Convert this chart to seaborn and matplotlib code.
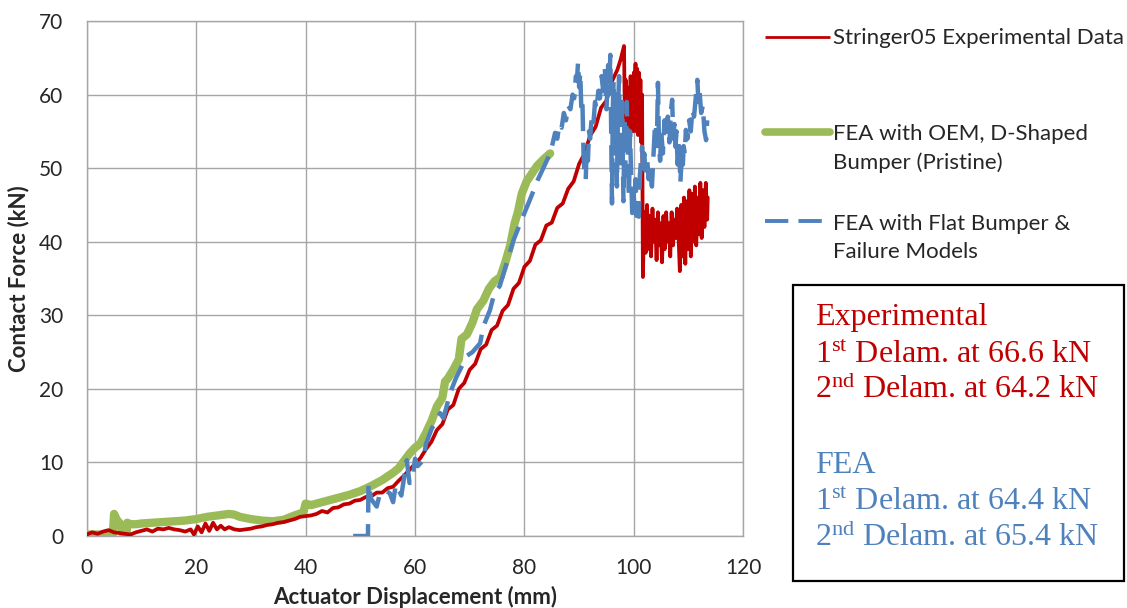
import matplotlib
matplotlib.use("Agg")
import matplotlib.pyplot as plt
import pandas as pd
import seaborn as sns
from matplotlib.lines import Line2D
from matplotlib.patches import Rectangle

# ---- Stringer05 experimental contact force vs. actuator displacement ----
exp_x = [0, 1, 2, 3, 4, 5, 6, 7, 8, 9,
         10, 11, 12, 13, 14, 15, 16, 17, 18, 19,
         19.6, 20.3, 21, 21.7, 22.4, 23.1, 23.8, 24.5, 25.2, 26,
         27, 28, 29, 30, 31, 32, 33, 34, 35, 36,
         37, 38, 39, 40, 41, 42, 43, 44, 45, 46,
         47, 48, 49, 50, 51, 52, 53, 54, 55, 56,
         57, 58, 59, 60, 61, 62, 63, 64, 65, 66,
         67, 68, 69, 70, 71, 72, 73, 74, 75, 76,
         77, 78, 79, 80, 81, 82, 83, 84, 85, 86,
         87, 88, 89, 90, 91, 92, 93, 94, 95, 96,
         97, 97.6, 98.2, 98.35, 98.5, 98.65, 98.8, 98.95, 99.1, 99.25,
         99.4, 99.55, 99.7, 99.85, 100.0, 100.15, 100.3, 100.45, 100.6, 100.75,
         100.9, 101.05, 101.2, 101.35, 101.5, 101.65, 101.9, 102.15, 102.4, 102.65,
         102.9, 103.15, 103.4, 103.65, 103.9, 104.15, 104.4, 104.65, 104.9, 105.15,
         105.4, 105.65, 105.9, 106.15, 106.4, 106.65, 106.9, 107.15, 107.4, 107.65,
         107.9, 108.15, 108.4, 108.65, 108.9, 109.15, 109.4, 109.65, 109.9, 110.15,
         110.4, 110.65, 110.9, 111.15, 111.4, 111.65, 111.9, 112.15, 112.4, 112.65,
         112.9, 113.15, 113.4, 113.5]
exp_y = [0.2, 0.5, 0.3, 0.6, 0.8, 0.5, 0.4, 0.3, 0.2, 0.5,
         0.7, 0.9, 0.6, 1.0, 0.9, 1.1, 0.9, 0.8, 0.6, 0.9,
         0.2, 1.3, 0.5, 1.7, 0.7, 1.8, 0.9, 1.4, 0.9, 1.2,
         0.9, 0.8, 0.9, 1.0, 1.2, 1.3, 1.5, 1.6, 1.8, 1.9,
         2.1, 2.3, 2.6, 2.7, 2.8, 3.0, 3.4, 3.2, 3.8, 3.9,
         4.3, 4.4, 4.8, 4.9, 5.3, 5.4, 5.9, 5.9, 6.5, 6.7,
         7.5, 8.2, 9.0, 9.8, 10.6, 11.8, 12.8, 14.4, 15.2, 17.2,
         17.8, 20.0, 20.8, 22.6, 23.4, 25.4, 26.0, 28.0, 28.6, 30.6,
         31.4, 33.6, 34.4, 36.6, 37.4, 39.6, 40.2, 42.2, 42.6, 44.6,
         45.2, 47.2, 48.2, 50.6, 52.0, 54.4, 55.6, 58.2, 59.2, 61.8,
         63.4, 64.8, 66.6, 57.0, 62.0, 54.5, 61.0, 55.0, 60.0, 54.0,
         62.5, 56.0, 61.0, 55.0, 63.0, 57.0, 64.2, 55.0, 63.5, 54.5,
         63.0, 56.0, 62.0, 53.5, 60.0, 35.2, 44.0, 38.5, 45.0, 39.0,
         43.5, 38.0, 44.5, 40.0, 43.0, 37.5, 44.0, 39.5, 42.5, 37.2,
         43.5, 39.0, 44.0, 40.0, 42.5, 38.0, 44.0, 39.5, 43.0, 40.5,
         44.5, 41.0, 36.0, 45.0, 38.0, 46.0, 37.0, 45.5, 39.0, 47.0,
         38.0, 46.5, 40.0, 47.5, 39.5, 46.0, 41.0, 48.0, 40.5, 47.0,
         42.0, 48.0, 43.0, 46.0]

# ---- FEA with OEM, D-shaped bumper (pristine) ----
oem_x = [0, 2, 4, 4.8, 5.0, 5.5, 6.2, 6.6, 7.3, 7.4,
         8, 9, 10, 12, 14, 16, 18, 20, 22, 24,
         26, 27, 28, 30, 32, 34, 36, 38, 39.6, 40.0,
         41, 42, 44, 46, 48, 50, 52, 54, 56, 57,
         58, 59, 60, 61, 62, 63, 64, 65, 65.5, 66,
         67, 68, 68.5, 69.5, 70.5, 71.3, 72.5, 73.5, 74.5, 75.6,
         76.5, 77.4, 78.2, 78.8, 79.5, 80.4, 81.3, 82.3, 83.5, 84.7]
oem_y = [0.2, 0.2, 0.2, 0.3, 3.0, 2.2, 1.6, 0.3, 0.3, 1.8,
         1.6, 1.6, 1.7, 1.8, 1.9, 2.0, 2.1, 2.3, 2.6, 2.8,
         3.0, 2.9, 2.6, 2.3, 2.1, 2.0, 2.2, 2.8, 3.2, 4.4,
         4.2, 4.4, 4.8, 5.2, 5.6, 6.1, 6.8, 7.6, 8.6, 9.2,
         10.2, 11.2, 12.0, 12.6, 14.0, 15.6, 17.6, 18.8, 21.0, 21.4,
         22.6, 24.0, 26.8, 27.4, 29.0, 30.8, 32.0, 33.6, 34.6, 35.2,
         37.2, 39.5, 42.5, 44.0, 46.5, 48.2, 49.2, 50.3, 51.2, 52.0]

# ---- FEA with flat bumper & failure models ----
flat_x = [48.7, 51.4, 51.5, 52.0, 53.0, 53.5, 54.5, 55.4, 56.0, 56.5,
          57.5, 58.5, 59.0, 59.5, 60.0, 60.5, 61.5, 62.0, 63.0, 64.6,
          65.2, 66.4, 67.5, 68.5, 69.5, 70.5, 71.9, 72.5, 73.7, 74.5,
          75.5, 76.5, 78.0, 79.5, 81.0, 82.5, 84.7, 85.2, 85.6, 86.0,
          86.4, 86.8, 87.2, 87.6, 88.0, 88.4, 88.8, 89.1, 89.4, 89.6,
          89.8, 90.0, 90.2, 90.4, 90.6, 90.8, 91.0, 91.2, 91.4, 91.6,
          91.8, 92.0, 92.3, 92.6, 92.9, 93.2, 93.5, 93.8, 94.1, 94.4,
          94.7, 95.0, 95.3, 95.5, 95.7, 95.85, 96.0, 96.15, 96.3, 96.5,
          96.7, 96.9, 97.1, 97.3, 97.5, 97.7, 97.9, 98.1, 98.3, 98.5,
          98.7, 98.9, 99.1, 99.3, 99.5, 99.7, 99.9, 100.1, 100.3, 100.5,
          100.7, 100.9, 101.1, 101.3, 101.5, 101.7, 101.9, 102.1, 102.4, 102.7,
          103.0, 103.3, 103.6, 103.8, 104.0, 104.2, 104.4, 104.6, 104.8, 105.0,
          105.3, 105.6, 105.9, 106.2, 106.5, 106.8, 107.0, 107.2, 107.4, 107.6,
          107.8, 108.0, 108.3, 108.5, 108.7, 108.9, 109.1, 109.3, 109.5, 109.8,
          110.1, 110.4, 110.7, 111.0, 111.3, 111.6, 111.8, 112.0, 112.3, 112.6,
          112.9, 113.2, 113.4]
flat_y = [0.0, 0.0, 7.2, 5.0, 4.0, 5.5, 6.2, 5.8, 4.6, 7.0,
          5.5, 10.3, 7.2, 7.4, 10.5, 9.5, 10.3, 12.5, 14.5, 16.7,
          16.0, 19.4, 21.5, 23.0, 24.5, 25.0, 26.2, 28.5, 30.7, 33.0,
          34.0, 36.5, 40.2, 43.0, 45.7, 48.5, 52.0, 53.5, 54.8, 54.0,
          56.0, 55.5, 57.5, 56.5, 58.5, 58.0, 60.0, 59.5, 62.5, 62.0,
          64.4, 61.0, 63.0, 58.0, 59.0, 52.0, 49.0, 48.4, 53.0, 51.0,
          55.0, 54.0, 57.0, 56.0, 59.0, 58.0, 60.5, 59.5, 62.5, 60.5,
          63.5, 58.0, 64.0, 61.0, 65.4, 55.0, 45.2, 58.0, 62.0, 52.0,
          60.0, 47.5, 58.0, 62.5, 50.0, 60.0, 55.0, 45.5, 57.0, 49.0,
          59.0, 52.0, 46.0, 55.0, 49.0, 43.9, 47.0, 45.0, 48.5, 43.5,
          46.0, 43.4, 49.0, 51.0, 52.9, 50.0, 52.0, 49.7, 51.5, 48.5,
          50.0, 47.5, 52.0, 55.0, 56.1, 53.0, 61.6, 53.0, 51.0, 55.0,
          52.0, 56.5, 54.0, 57.0, 53.5, 58.0, 59.3, 54.0, 56.0, 52.9,
          55.0, 50.5, 53.0, 48.0, 51.0, 49.5, 53.0, 52.0, 55.2, 54.0,
          56.5, 55.0, 58.0, 57.0, 59.5, 62.0, 59.0, 60.5, 57.5, 58.5,
          55.0, 53.8, 56.5]

x_ticks = [0, 20, 40, 60, 80, 100, 120]
y_ticks = [0, 10, 20, 30, 40, 50, 60, 70]

series_names = ["Stringer05 Experimental Data",
                "FEA with OEM, D-Shaped\nBumper (Pristine)",
                "FEA with Flat Bumper &\nFailure Models"]

exp_delam = [66.6, 64.2]
fea_delam = [64.4, 65.4]

RED = "#C00000"
GREEN = "#9BBB59"
BLUE = "#4F81BD"
GRID = "#A6A6A6"
DASH = (0, (6.0, 2.6))

sns.set_style("white")
plt.rcParams["font.family"] = ["Lato", "DejaVu Sans"]
plt.rcParams["mathtext.fontset"] = "custom"
plt.rcParams["mathtext.rm"] = "Liberation Serif"
plt.rcParams["mathtext.it"] = "Liberation Serif:italic"
plt.rcParams["mathtext.bf"] = "Liberation Serif:bold"

W, H = 1127, 608
fig = plt.figure(figsize=(W / 100, H / 100), dpi=100)
ax = fig.add_axes([86.7 / W, 1 - 536 / H, (743.3 - 86.7) / W, (536 - 21) / H])

df_oem = pd.DataFrame({"disp": oem_x, "force": oem_y})
df_exp = pd.DataFrame({"disp": exp_x, "force": exp_y})
df_flat = pd.DataFrame({"disp": flat_x, "force": flat_y})

sns.lineplot(data=df_oem, x="disp", y="force", ax=ax, color=GREEN, lw=6.0,
             sort=False, estimator=None, legend=False, zorder=3,
             solid_capstyle="round", solid_joinstyle="round")
sns.lineplot(data=df_exp, x="disp", y="force", ax=ax, color=RED, lw=2.7,
             sort=False, estimator=None, legend=False, zorder=4)
sns.lineplot(data=df_flat, x="disp", y="force", ax=ax, color=BLUE, lw=3.2,
             sort=False, estimator=None, legend=False, zorder=5,
             linestyle=DASH)

ax.set_xlim(0, 120)
ax.set_ylim(0, 70)
ax.set_xticks(x_ticks)
ax.set_yticks(y_ticks)
ax.grid(True, color=GRID, lw=1)
ax.set_axisbelow(True)
for sp in ax.spines.values():
    sp.set_color(GRID)
    sp.set_linewidth(1)
ax.tick_params(length=0, labelsize=15, labelcolor="#262626")
ax.tick_params(axis="y", pad=17)
ax.tick_params(axis="x", pad=15.5)

ax.set_xlabel("Actuator Displacement (mm)", fontsize=16, fontweight="bold")
ax.set_ylabel("Contact Force (kN)", fontsize=16, fontweight="bold")
ax.xaxis.set_label_coords(0.5, -0.097)
ax.yaxis.set_label_coords(-0.087, 0.5)


def fx(px):
    return px / W


def fy(py):
    return 1 - py / H


# Legend drawn beside the axes
leg_items = [
    (RED, 2.0, "-", 37, [(series_names[0], 43.5)]),
    (GREEN, 5.5, "-", 131.5, [("FEA with OEM, D-Shaped", 139.5), ("Bumper (Pristine)", 169.5)]),
    (BLUE, 2.8, DASH, 221.5, [("FEA with Flat Bumper &", 230), ("Failure Models", 258.5)]),
]
for col, lw, ls, ly, lines in leg_items:
    fig.add_artist(Line2D([fx(765), fx(830)], [fy(ly), fy(ly)], color=col, lw=lw,
                          linestyle=ls, solid_capstyle="round" if col == GREEN else "butt",
                          transform=fig.transFigure))
    for txt, by in lines:
        fig.text(fx(833), fy(by), txt, fontsize=16, color="#262626",
                 ha="left", va="baseline")

# Delamination summary box
fig.add_artist(Rectangle((fx(793), fy(581)), fx(1124) - fx(793), (581 - 285) / H,
                         transform=fig.transFigure, fill=False, ec="black", lw=1.6))
box_lines = [
    ("Experimental", RED, 325),
    (r"1$^{\mathrm{st}}$ Delam. at %.1f kN" % exp_delam[0], RED, 363),
    (r"2$^{\mathrm{nd}}$ Delam. at %.1f kN" % exp_delam[1], RED, 398.5),
    ("FEA", BLUE, 473),
    (r"1$^{\mathrm{st}}$ Delam. at %.1f kN" % fea_delam[0], BLUE, 510),
    (r"2$^{\mathrm{nd}}$ Delam. at %.1f kN" % fea_delam[1], BLUE, 546.5),
]
for txt, col, by in box_lines:
    fig.text(fx(815), fy(by), txt, fontsize=23, color=col, ha="left",
             va="baseline", family=["Liberation Serif", "DejaVu Serif"])

fig.savefig("out.png", dpi=100)
